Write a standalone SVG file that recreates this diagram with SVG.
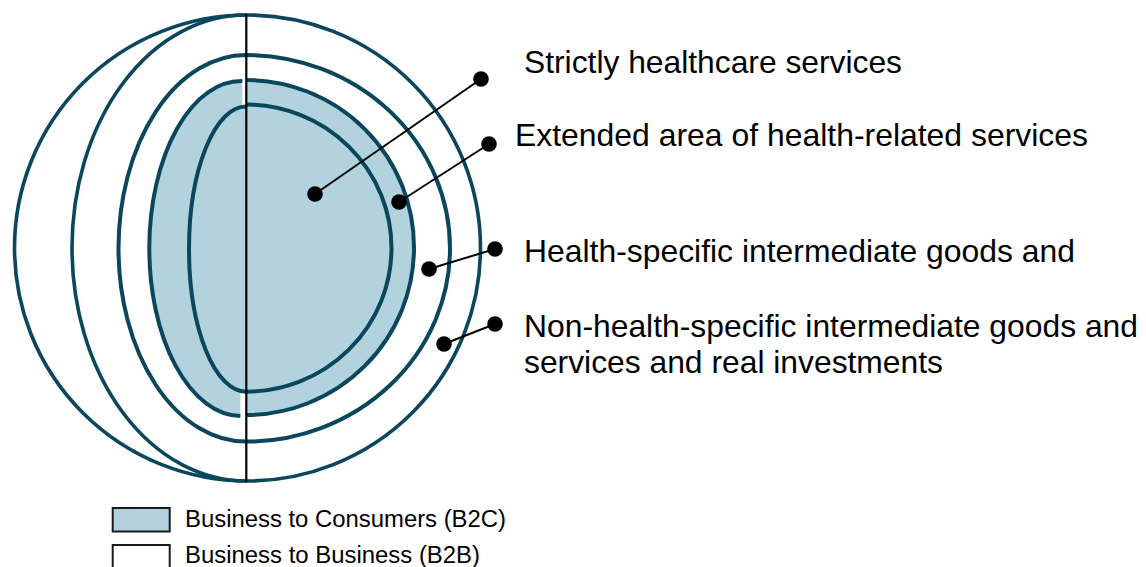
<svg xmlns="http://www.w3.org/2000/svg" width="1146" height="567" viewBox="0 0 1146 567">
  <style>
    .ring { fill: none; stroke: #0a465c; stroke-width: 4; }
    .b2c { fill: #b2d3de; stroke: none; }
    .conn { stroke: #000; stroke-width: 2; fill: none; }
    .dot { fill: #000; }
    .label { font-family: "Liberation Sans", Arial, sans-serif; font-size: 31.5px; fill: #000; }
    .legend { font-family: "Liberation Sans", Arial, sans-serif; font-size: 23px; fill: #000; }
    .box { stroke: #1a1a1a; stroke-width: 2; }
  </style>
  <rect width="1146" height="567" fill="#fff"/>

  <g id="sphere">
    <circle class="ring" cx="247.5" cy="248" r="233" style="fill:#fff;stroke-width:3.6"/>
    <path class="ring" d="M246,15 A174 233 0 0 0 246,481" style="stroke-width:3.6"/>
    <path class="ring" d="M246,55 A204 193.3 0 0 1 246,441.6 A127.5 193.3 0 0 1 246,55 Z"/>
  </g>

  <g id="b2c-area">
    <path class="b2c" d="M246,80 A168 167.5 0 0 1 246,415 Z"/>
    <path class="b2c" d="M242.3,81 A92 167.5 0 0 0 240.3,416 Z"/>
    <path class="ring" d="M246,80 A168 167.5 0 0 1 246,415"/>
    <path class="ring" d="M242.3,81 A92 167.5 0 0 0 240.3,416"/>
  </g>

  <g id="healthcare-core">
    <path class="b2c" d="M246,106.5 A57 142.6 0 0 0 246,391.7 Z"/>
    <path class="ring" d="M246,104.5 A145.5 143.6 0 0 1 246,391.7"/>
    <path class="ring" d="M246,106.5 A57 142.6 0 0 0 246,391.7"/>
  </g>

  <g id="divider">
    <line x1="246.3" y1="14" x2="246.3" y2="482" stroke="#000" stroke-width="2.2"/>
  </g>

  <g id="connectors">
    <line class="conn" x1="315" y1="194" x2="481" y2="79"/>
    <line class="conn" x1="399" y1="202" x2="489" y2="144"/>
    <line class="conn" x1="429" y1="269" x2="495" y2="249"/>
    <line class="conn" x1="444" y1="344" x2="495" y2="324"/>
    <circle class="dot" cx="315" cy="194" r="7.8"/>
    <circle class="dot" cx="481" cy="79" r="7.8"/>
    <circle class="dot" cx="399" cy="202" r="7.8"/>
    <circle class="dot" cx="489" cy="144" r="7.8"/>
    <circle class="dot" cx="429" cy="269" r="7.8"/>
    <circle class="dot" cx="495" cy="249" r="7.8"/>
    <circle class="dot" cx="444" cy="344" r="7.8"/>
    <circle class="dot" cx="495" cy="324" r="7.8"/>
  </g>

  <g id="label-strict">
    <text class="label" x="524" y="73.3" textLength="378" lengthAdjust="spacingAndGlyphs">Strictly healthcare services</text>
  </g>
  <g id="label-extended">
    <text class="label" x="515" y="146" textLength="573" lengthAdjust="spacingAndGlyphs">Extended area of health-related services</text>
  </g>
  <g id="label-health-specific">
    <text class="label" x="524" y="262" textLength="551" lengthAdjust="spacingAndGlyphs">Health-specific intermediate goods and</text>
  </g>
  <g id="label-non-health">
    <text class="label" x="524" y="337.3" textLength="614" lengthAdjust="spacingAndGlyphs">Non-health-specific intermediate goods and</text>
    <text class="label" x="524" y="373.3" textLength="419" lengthAdjust="spacingAndGlyphs">services and real investments</text>
  </g>

  <g id="legend-b2c">
    <rect class="box" x="112.7" y="508" width="57" height="23.5" fill="#b2d3de"/>
    <text class="legend" x="185" y="526.7" textLength="321" lengthAdjust="spacingAndGlyphs">Business to Consumers (B2C)</text>
  </g>
  <g id="legend-b2b">
    <rect class="box" x="112.7" y="545" width="57" height="30" fill="#fff"/>
    <text class="legend" x="185" y="563.3" textLength="295" lengthAdjust="spacingAndGlyphs">Business to Business (B2B)</text>
  </g>
</svg>
